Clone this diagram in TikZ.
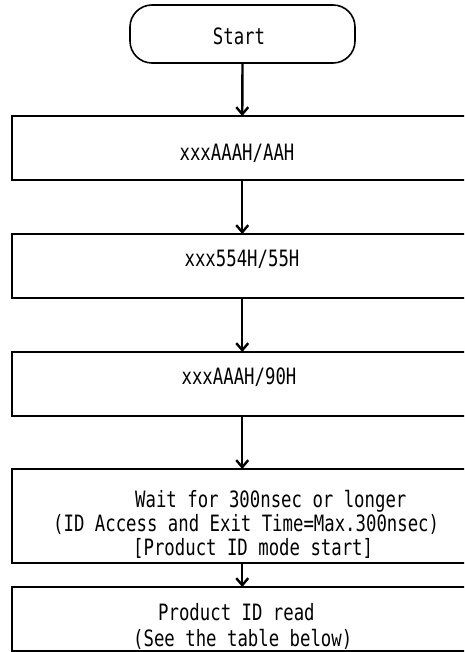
\documentclass[tikz,border=0pt]{standalone}
\usepackage{fontspec}
\newfontfamily\gothicmono[FakeStretch=0.77]{DejaVu Sans Mono}
\usetikzlibrary{arrows.meta}

\begin{document}
\begin{tikzpicture}[x=1pt, y=-1pt, line cap=butt, line join=miter,
  stepbox/.style={draw, line width=2pt, inner sep=0pt, outer sep=0pt, minimum width=460, minimum height=64},
  termbox/.style={draw, line width=1.6pt, rounded corners=22pt, inner sep=0pt, outer sep=0pt, minimum width=225, minimum height=58},
  boxtext/.style={inner sep=0pt, font=\gothicmono\fontsize{22.5}{24}\selectfont},
  flow/.style={line width=2.4pt, -{Straight Barb[length=7pt,width=12pt]}}]

  %% ════ canvas (boxes run past the right edge) ════
  \clip (0,0) rectangle (464,652);

  %% ════ boxes ════
  \node[termbox] (start) at (242.5,34) {};
  \node[stepbox] (aaa)   at (242.25,148) {};
  \node[stepbox] (s554)  at (242.25,266) {};
  \node[stepbox] (a90)   at (242.25,384) {};
  \node[stepbox, minimum height=94] (wait) at (242.25,516) {};
  \node[stepbox] (idread) at (242.25,619) {};

  %% ════ texts ════
  \node[boxtext] (start-t) at (239,36.5) {Start};
  \node[boxtext] (aaa-t)   at (237,153) {xxxAAAH/AAH};
  \node[boxtext] (s554-t)  at (242,259) {xxx554H/55H};
  \node[boxtext] (a90-t)   at (239,377) {xxxAAAH/90H};
  \node[boxtext, align=left, anchor=west] (wait-t) at (53,524)
    {\hspace*{82pt}Wait for 300nsec or longer\\
     (ID Access and Exit Time=Max.300nsec)\\
     \hspace*{80pt}[Product ID mode start]};
  \node[boxtext, align=left, anchor=west, font=\gothicmono\fontsize{22.5}{26}\selectfont] (idread-t) at (133,626)
    {\hspace*{25pt}Product ID read\\
     (See the table below)};

  %% ════ arrows ════
  \draw[flow] (start.south) -- (aaa.north);
  \draw[flow] (aaa.south) -- (s554.north);
  \draw[flow] (s554.south) -- (a90.north);
  \draw[flow] (a90.south) -- (wait.north);
  \draw[flow] (wait.south) -- (idread.north);
\end{tikzpicture}
\end{document}
